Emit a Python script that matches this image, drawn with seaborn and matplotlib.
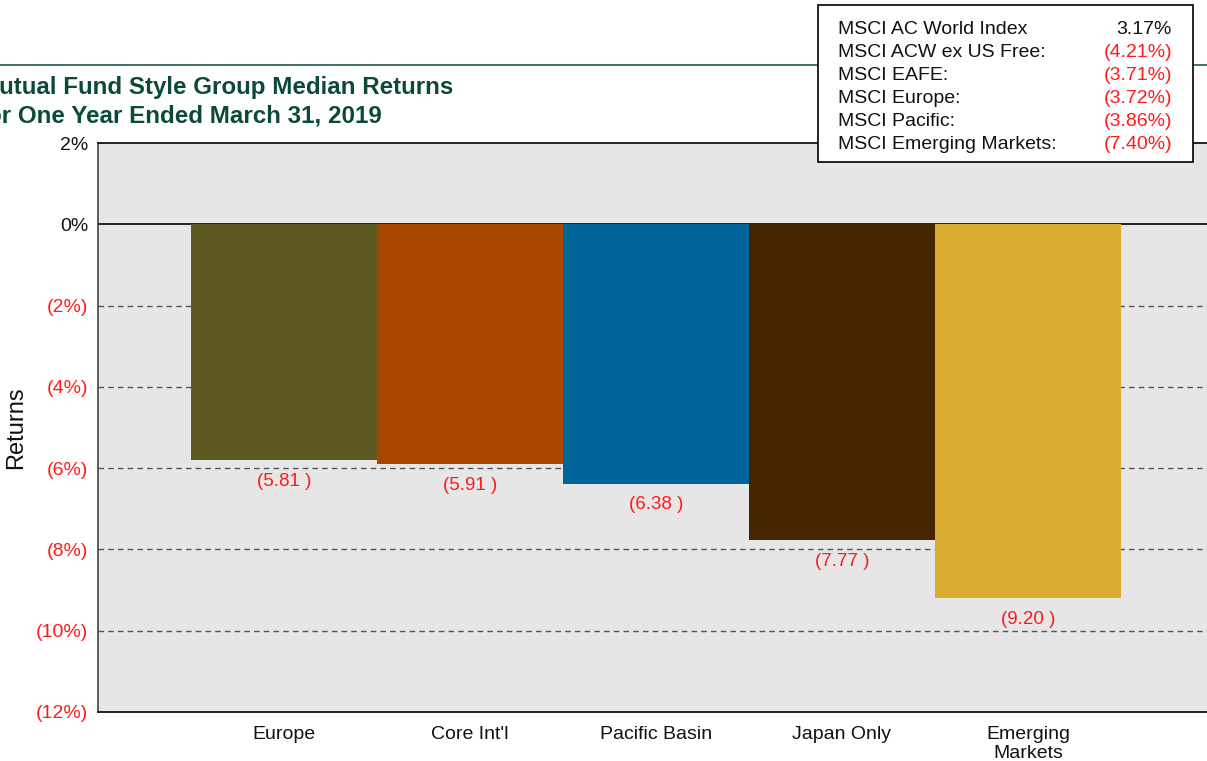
import matplotlib
matplotlib.use("Agg")
import matplotlib.pyplot as plt
import matplotlib.lines as mlines
import matplotlib.patches as mpatches
import pandas as pd
import seaborn as sns

# Chart data
CATEGORIES = ["Europe", "Core Int'l", "Pacific Basin", "Japan Only", "Emerging\nMarkets"]
RETURNS = [-5.81, -5.91, -6.38, -7.77, -9.20]
BAR_COLORS = ["#5c5a20", "#a84500", "#006699", "#472400", "#dbaa30"]

INDEX_NAMES = ["MSCI AC World Index", "MSCI ACW ex US Free:", "MSCI EAFE:",
               "MSCI Europe:", "MSCI Pacific:", "MSCI Emerging Markets:"]
INDEX_RETURNS = [3.17, -4.21, -3.71, -3.72, -3.86, -7.40]

Y_TICKS = [2, 0, -2, -4, -6, -8, -10, -12]

TITLE_LINES = ["Mutual Fund Style Group Median Returns",
               "for One Year Ended March 31, 2019"]

TITLE_COLOR = "#0b4a3a"
NEG_RED = "#ff1a1a"


def pct_label(v):
    return f"{v:.0f}%" if v >= 0 else f"({abs(v):.0f}%)"


def idx_label(v):
    return f"{v:.2f}%" if v >= 0 else f"({abs(v):.2f}%)"


sns.set_theme(style="white")
plt.rcParams["font.family"] = ["Liberation Sans", "DejaVu Sans"]

W, H = 1207, 761
fig = plt.figure(figsize=(W / 100, H / 100), dpi=100)

# axes extends a bit past the right edge, like the source
ax = fig.add_axes([98 / W, (H - 712) / H, 1116 / W, (712 - 143) / H])
ax.set_facecolor("#e6e6e6")

df = pd.DataFrame({"category": CATEGORIES, "ret": RETURNS})
sns.barplot(data=df, x="category", y="ret", hue="category",
            palette=BAR_COLORS, width=1.0, saturation=1, dodge=False,
            legend=False, linewidth=0, ax=ax, zorder=3)

# value labels under each bar
for i, v in enumerate(RETURNS):
    ax.annotate(f"({abs(v):.2f} )", xy=(i, v), xytext=(0, -15.2),
                textcoords="offset points", ha="center", va="center",
                fontsize=13.5, color=NEG_RED, zorder=4)

ax.set_xlim(-1, 5)
ax.set_ylim(-12, 2)
ax.set_yticks(Y_TICKS)
ax.set_yticklabels([pct_label(v) for v in Y_TICKS], fontsize=14)
for lbl, v in zip(ax.get_yticklabels(), Y_TICKS):
    lbl.set_color("#111111" if v >= 0 else NEG_RED)

ax.tick_params(axis="y", length=0, pad=7)
ax.tick_params(axis="x", length=0, pad=10, labelsize=14, labelcolor="#111111")
ax.set_xlabel("")
ax.set_ylabel("Returns", fontsize=17, color="#111111")
ax.yaxis.set_label_coords(-71 / 1116, 0.5)

# gridlines and zero line
for v in [-2, -4, -6, -8, -10]:
    ax.axhline(v, color="#555555", lw=1, ls=(0, (4, 3)), zorder=1)
ax.axhline(0, color="black", lw=1.2, zorder=1)

for side in ["left", "bottom", "top", "right"]:
    ax.spines[side].set_color("black")
    ax.spines[side].set_linewidth(1.2)
ax.spines["left"].set_color("#444444")

# green rule across the top
fig.add_artist(mlines.Line2D([0, 1], [1 - 65 / H, 1 - 65 / H],
                             color="#1f5a4a", lw=1.2, transform=fig.transFigure))

# title, left part clipped by the figure edge
for k, line in enumerate(TITLE_LINES):
    fig.text(-21 / W, 1 - (94 + 29 * k) / H, line, fontsize=17.4, fontweight="bold",
             color=TITLE_COLOR, ha="left", va="baseline")

# index returns box
fig.add_artist(mpatches.Rectangle((818 / W, 1 - 162 / H), 375 / W, 157 / H,
                                  transform=fig.transFigure, facecolor="white",
                                  edgecolor="black", lw=1.2, zorder=5))
for k, (name, val) in enumerate(zip(INDEX_NAMES, INDEX_RETURNS)):
    y = 1 - (34 + 23 * k) / H
    t1 = fig.text(838 / W, y, name, fontsize=14, color="#111111",
                  ha="left", va="baseline")
    t2 = fig.text(1172 / W, y, idx_label(val), fontsize=14,
                  color="#111111" if val >= 0 else NEG_RED, ha="right", va="baseline")
    t1.set_zorder(6)
    t2.set_zorder(6)

fig.savefig("out.png", dpi=100)
